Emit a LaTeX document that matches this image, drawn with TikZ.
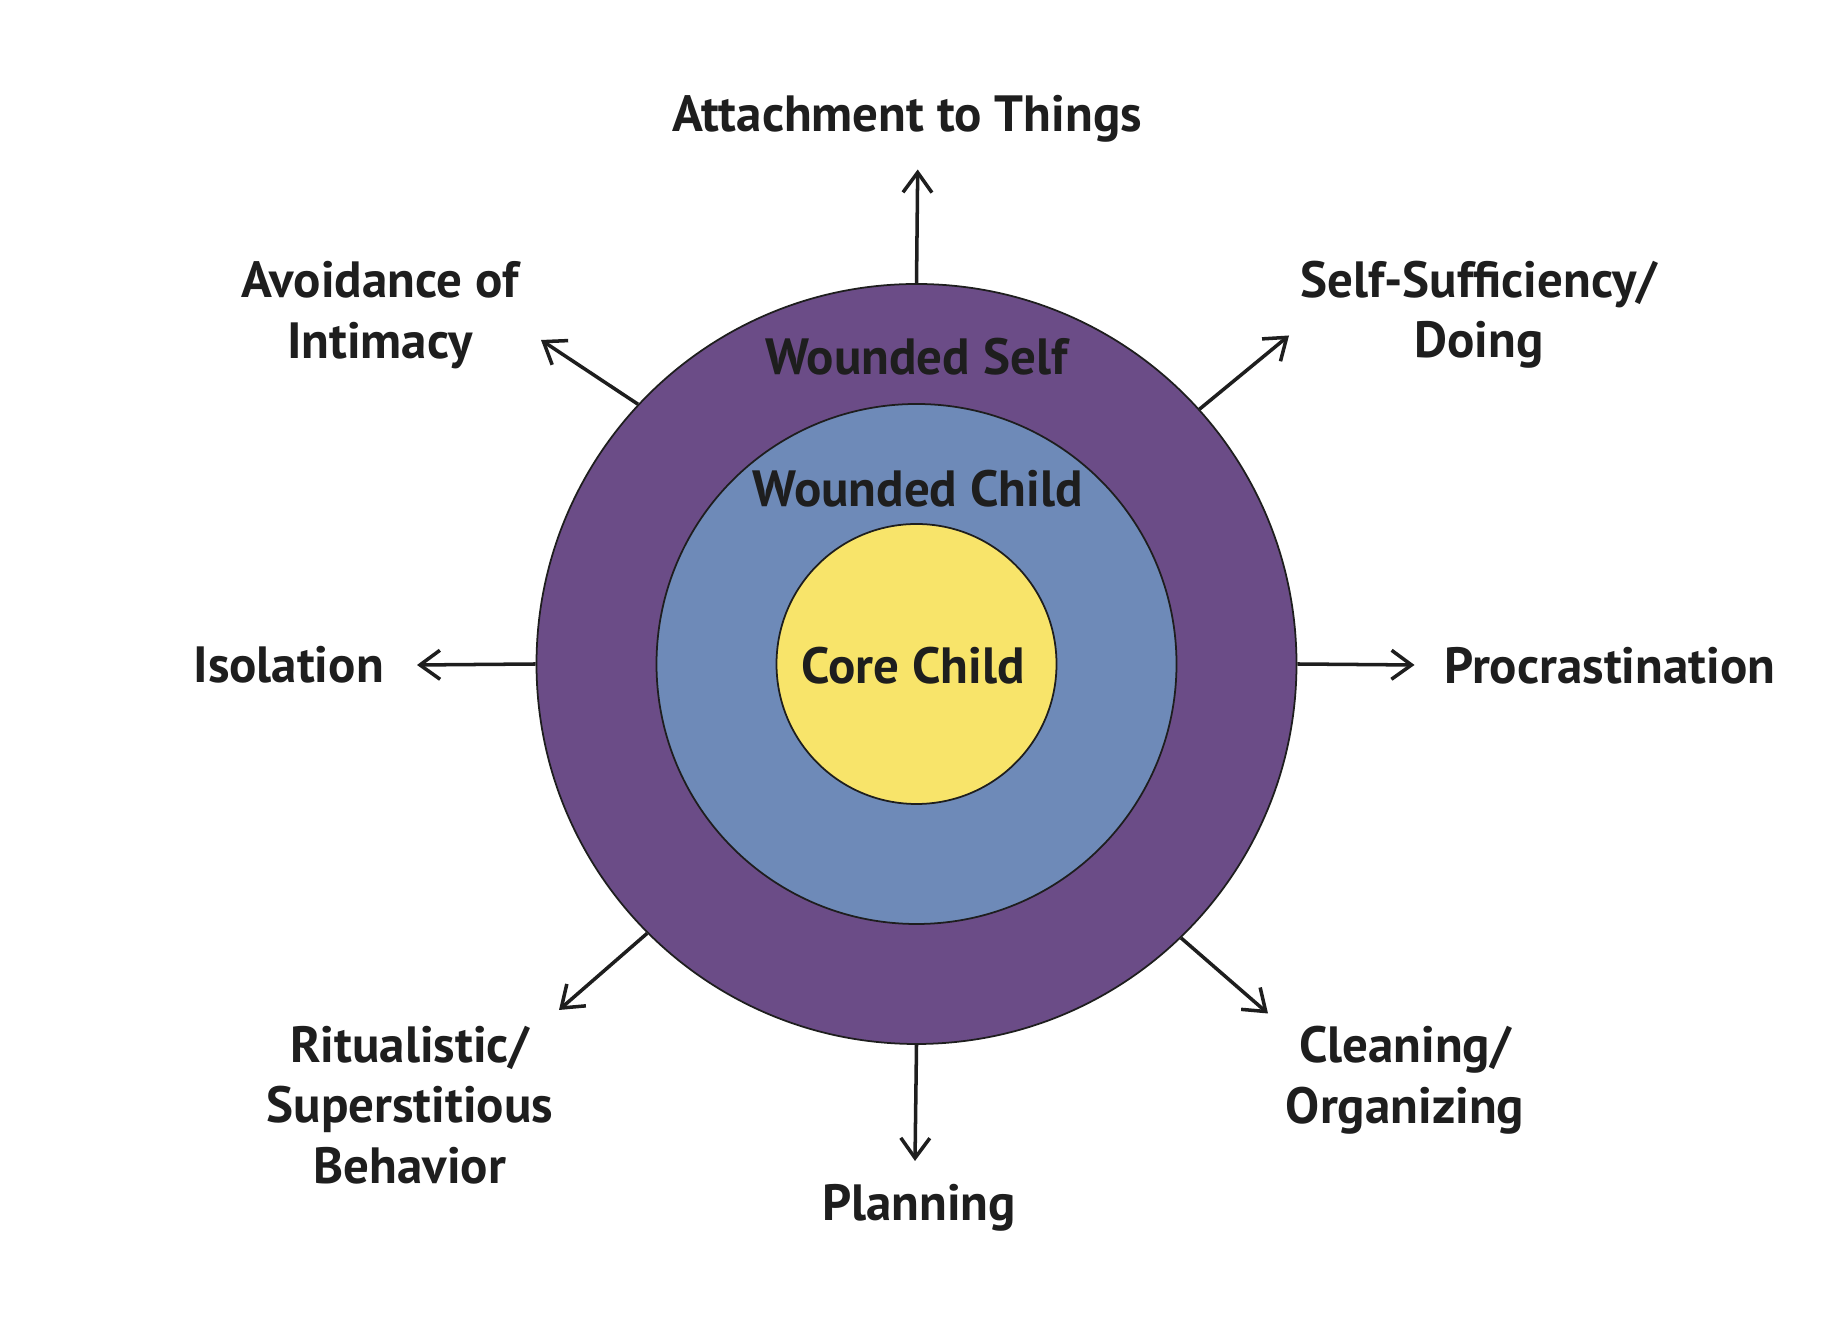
\documentclass[tikz,border=0pt]{standalone}
\usepackage{fontspec}
\setmainfont{PT Sans}
\usepackage{xcolor}
\usetikzlibrary{arrows.meta}
\definecolor{ink}{HTML}{1E1E1E}
\definecolor{purple}{HTML}{6B4C87}
\definecolor{steel}{HTML}{6E8AB8}
\definecolor{yellow}{HTML}{F8E46A}
\tikzset{
  ring/.style={circle,draw=ink,line width=0.5pt,fill=#1,inner sep=0pt},
  label/.style={align=center,text=ink,font=\fontsize{14.5}{17.2}\selectfont\bfseries,inner sep=0pt},
  flow/.style={-{Straight Barb[length=2mm,width=2.9mm]},line width=1pt,draw=ink}
}

\begin{document}
\begin{tikzpicture}
    \useasboundingbox (0,0) rectangle (18.33,13.31);

    \node[ring=purple,minimum size=7.6cm] (self) at (9.165,6.67) {};
    \node[ring=steel,minimum size=5.2cm] (child) at (self.center) {};
    \node[ring=yellow,minimum size=2.8cm] (core) at (self.center) {};

    \node[label] (corelbl) at (9.13,6.65) {Core Child};
    \node[label] (childlbl) at (9.177,8.424) {Wounded Child};
    \node[label] (selflbl) at (9.165,9.745) {Wounded Self};

    \node[label] (attach) at (9.07,12.125) {Attachment to Things};
    \node[label] (avoid) at (3.80,10.16) {Avoidance of\\Intimacy};
    \node[label] (selfsuff) at (14.79,10.16) {Self-Sufficiency/\\Doing};
    \node[label] (isol) at (2.887,6.66) {Isolation};
    \node[label] (procr) at (16.097,6.65) {Procrastination};
    \node[label] (ritual) at (4.10,2.26) {Ritualistic/\\Superstitious\\Behavior};
    \node[label] (plan) at (9.19,1.23) {Planning};
    \node[label] (clean) at (14.05,2.51) {Cleaning/\\Organizing};

    \coordinate (attachtip) at (9.177,11.615);
    \coordinate (avoidtip) at (5.41,9.91);
    \coordinate (selfsufftip) at (12.89,9.955);
    \coordinate (isoltip) at (4.17,6.66);
    \coordinate (procrtip) at (14.145,6.66);
    \coordinate (ritualtip) at (5.59,3.21);
    \coordinate (plantip) at (9.15,1.70);
    \coordinate (cleantip) at (12.68,3.175);

    \draw[flow] (self.90) -- (attachtip);
    \draw[flow] (self.137) -- (avoidtip);
    \draw[flow] (self.42) -- (selfsufftip);
    \draw[flow] (self.180) -- (isoltip);
    \draw[flow] (self.0) -- (procrtip);
    \draw[flow] (self.225) -- (ritualtip);
    \draw[flow] (self.270) -- (plantip);
    \draw[flow] (self.314) -- (cleantip);
  \end{tikzpicture}
\end{document}
